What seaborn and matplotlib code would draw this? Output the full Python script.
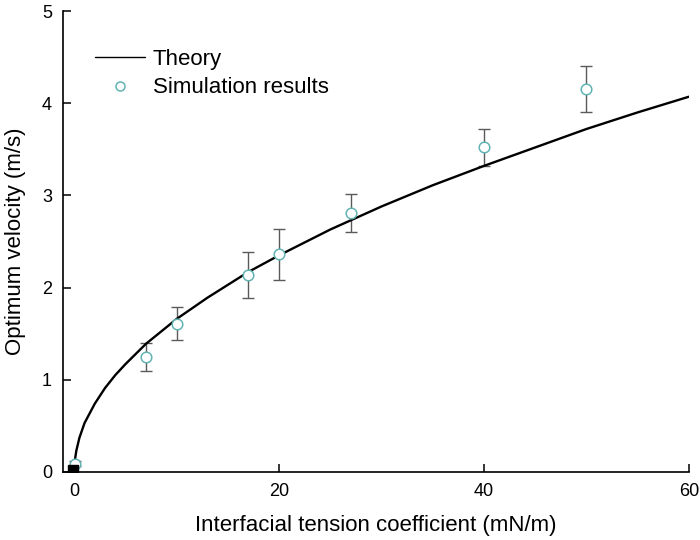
import matplotlib
matplotlib.use("Agg")
import matplotlib.pyplot as plt
import seaborn as sns
import pandas as pd
from matplotlib.lines import Line2D

# ---- data ----
theory_x = [0, 0.05, 0.2, 0.5, 1, 2, 3, 4, 5, 7, 10, 13, 17, 20, 25, 30, 35, 40, 45, 50, 55, 60]
theory_y = [0, 0.12, 0.23, 0.37, 0.53, 0.74, 0.91, 1.05, 1.17, 1.39, 1.66, 1.89, 2.17, 2.35,
            2.63, 2.88, 3.11, 3.32, 3.52, 3.72, 3.90, 4.07]

sim_x = [0.1, 7, 10, 17, 20, 27, 40, 50]
sim_y = [0.09, 1.25, 1.61, 2.14, 2.36, 2.81, 3.52, 4.15]
sim_err = [0.03, 0.15, 0.18, 0.25, 0.28, 0.21, 0.20, 0.25]

origin_x = [-0.15]
origin_y = [0.02]

x_ticks = [0, 20, 40, 60]
y_ticks = [0, 1, 2, 3, 4, 5]

# ---- style ----
sns.set_style("ticks")
plt.rcParams["font.family"] = ["Liberation Sans", "DejaVu Sans"]
plt.rcParams["text.color"] = "black"
plt.rcParams["axes.labelcolor"] = "black"

teal = "#62b4b4"
err_col = "#5a5a5a"

fig = plt.figure(figsize=(7, 5.4), dpi=100)
ax = fig.add_axes([0.09, 0.126, 0.894, 0.8536])

theory_df = pd.DataFrame({"x": theory_x, "y": theory_y})
sim_df = pd.DataFrame({"x": sim_x, "y": sim_y, "err": sim_err})

sns.lineplot(data=theory_df, x="x", y="y", ax=ax, color="black", lw=1.7,
             estimator=None, sort=False, zorder=3)

ax.errorbar(sim_df["x"], sim_df["y"], yerr=sim_df["err"], fmt="none",
            ecolor=err_col, elinewidth=1.0, capsize=4, capthick=1.0, zorder=2)

sns.scatterplot(data=sim_df, x="x", y="y", ax=ax, marker="o", s=58,
                facecolor="white", edgecolor=teal, linewidth=1.1, zorder=4)

ax.plot(origin_x, origin_y, marker="s", ms=7.2, color="black", ls="none",
        zorder=5, clip_on=True)

ax.set_xlim(-1.1, 60)
ax.set_ylim(0, 5)
ax.set_xticks(x_ticks)
ax.set_yticks(y_ticks)
ax.tick_params(direction="in", length=6, width=1.1, labelsize=13, pad=8,
               colors="black")
for side in ["left", "bottom"]:
    ax.spines[side].set_linewidth(1.2)
    ax.spines[side].set_color("black")
sns.despine(ax=ax)

ax.set_xlabel("Interfacial tension coefficient (mN/m)", fontsize=16, labelpad=11)
ax.set_ylabel("Optimum velocity (m/s)", fontsize=16, labelpad=11)

handles = [
    Line2D([], [], color="black", lw=1.0),
    Line2D([], [], marker="o", ls="none", ms=6.5, markerfacecolor="white",
           markeredgecolor=teal, markeredgewidth=1.1),
]
ax.legend(handles, ["Theory", "Simulation results"], loc="upper left",
          bbox_to_anchor=(0.026, 0.952), frameon=False, fontsize=16,
          handlelength=2.25, handletextpad=0.36, labelspacing=0.35,
          borderaxespad=0.3)

fig.savefig("out.png", dpi=100)
